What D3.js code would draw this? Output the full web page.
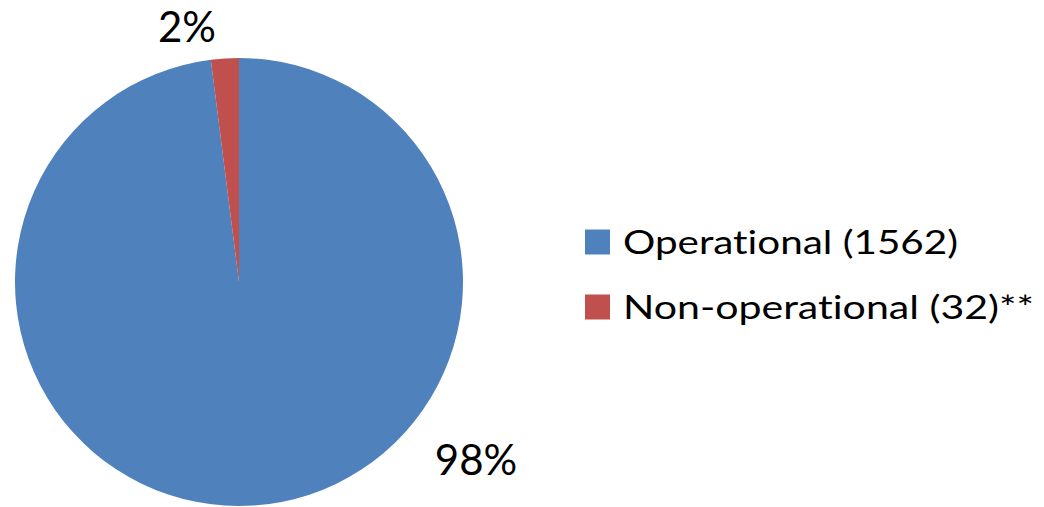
<!DOCTYPE html>
<html><head><meta charset="utf-8">
<script src="https://cdn.jsdelivr.net/npm/d3@7"></script>
<style>body{margin:0;background:#fff}svg{display:block}text{font-family:Lato,"Open Sans",sans-serif;fill:#000;font-variant-ligatures:none;font-feature-settings:"liga" 0,"dlig" 0}</style>
</head><body><svg id="c" width="1044" height="507"></svg>
<script>
const categories = ["Operational (1562)", "Non-operational (32)**"];
const values = [1562, 32];
const colors = ["#4F81BD", "#C0504D"];
const pctLabels = ["98%", "2%"];

const svg = d3.select("#c");
const cx = 239, cy = 282, r = 224;
const pie = d3.pie().sort(null).value(d => d)(values);
const arc = d3.arc().innerRadius(0).outerRadius(r);
const g = svg.append("g").attr("transform", `translate(${cx},${cy})`);
g.selectAll("path").data(pie).join("path")
  .attr("d", arc).attr("fill", (d, i) => colors[i]);

// percentage labels outside
const labelPos = [[476, 475], [187, 42]];
svg.selectAll("text.pct").data(pctLabels).join("text").attr("class", "pct")
  .attr("x", (d, i) => labelPos[i][0]).attr("y", (d, i) => labelPos[i][1])
  .attr("text-anchor", "middle").attr("font-size", 42).text(d => d);

// legend
const lg = svg.append("g");
const ly = d3.scalePoint().domain(categories).range([242, 307]);
const legendWidths = [335, 411];
lg.selectAll("rect").data(categories).join("rect")
  .attr("x", 585).attr("y", d => ly(d) - 12.5).attr("width", 25).attr("height", 25)
  .attr("fill", (d, i) => colors[i]);
lg.selectAll("text").data(categories).join("text")
  .attr("x", 623).attr("y", d => ly(d) + 12)
  .attr("font-size", 32)
  .attr("textLength", (d, i) => legendWidths[i])
  .attr("lengthAdjust", "spacingAndGlyphs")
  .text(d => d);
</script></body></html>
